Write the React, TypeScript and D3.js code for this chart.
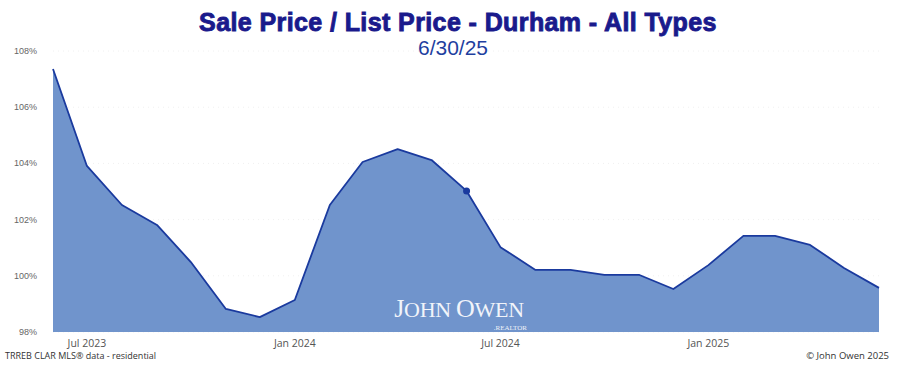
import React from "react";
import * as d3 from "d3";

const months: string[] = [
  "2023-06", "2023-07", "2023-08", "2023-09", "2023-10", "2023-11", "2023-12",
  "2024-01", "2024-02", "2024-03", "2024-04", "2024-05", "2024-06", "2024-07",
  "2024-08", "2024-09", "2024-10", "2024-11", "2024-12", "2025-01", "2025-02",
  "2025-03", "2025-04", "2025-05", "2025-06",
];
const values: number[] = [
  107.36, 103.91, 102.52, 101.81, 100.49, 98.82, 98.53, 99.14, 102.52, 104.05,
  104.51, 104.12, 103.02, 101.02, 100.21, 100.21, 100.03, 100.03, 99.53, 100.38,
  101.42, 101.42, 101.1, 100.28, 99.57,
];
const yTicks: number[] = [98, 100, 102, 104, 106, 108];
const xTickMonths: string[] = ["2023-07", "2024-01", "2024-07", "2025-01"];
const xTickLabels: string[] = ["Jul 2023", "Jan 2024", "Jul 2024", "Jan 2025"];
const markerMonth = "2024-06";

const W = 898, H = 369;
const left = 53, right = 879, top = 51, bottom = 332;

export default function App() {
  const parse = d3.timeParse("%Y-%m");
  const dates = months.map((m) => parse(m) as Date);
  const x = d3.scaleTime().domain([dates[0], dates[dates.length - 1]]).range([left, right]);
  const y = d3.scaleLinear().domain([98, 108]).range([bottom, top]);
  const data = dates.map((d, i) => ({ d, v: values[i] }));
  const area = d3.area<{ d: Date; v: number }>().x((p) => x(p.d)).y0(y(98)).y1((p) => y(p.v));
  const line = d3.line<{ d: Date; v: number }>().x((p) => x(p.d)).y((p) => y(p.v));
  const mi = months.indexOf(markerMonth);

  return (
    <svg width={W} height={H} style={{ position: "absolute", left: 0, top: 0, background: "#fff" }}>
      {yTicks.map((t) => (
        <line key={"g" + t} x1={left} x2={right} y1={y(t)} y2={y(t)} stroke="#f0f0f0" strokeWidth={1} strokeDasharray="1,4" />
      ))}
      <path d={area(data) || ""} fill="#7094cc" />
      <path d={line(data) || ""} fill="none" stroke="#1a3a9e" strokeWidth={1.8} strokeLinejoin="round" />
      <circle cx={x(dates[mi])} cy={y(values[mi])} r={3.5} fill="#1a3a9e" />
      <text x={459} y={317} textAnchor="middle" fontFamily="Liberation Serif, DejaVu Serif, serif" fontSize={22} fill="#ffffff" opacity={0.9} letterSpacing={-0.3}>
        <tspan fontSize={26}>J</tspan>OHN <tspan fontSize={26}>O</tspan>WEN
      </text>
      <text x={527} y={330} textAnchor="end" fontFamily="Liberation Serif, serif" fontSize={7} fill="#ffffff" opacity={0.9}>.REALTOR</text>
      {yTicks.map((t) => (
        <text key={"y" + t} x={37} y={y(t) + 3} textAnchor="end" fontFamily="Liberation Sans, Arial, sans-serif" fontSize={9} fill="#666">
          {t}%
        </text>
      ))}
      {xTickMonths.map((m, i) => (
        <text key={m} x={x(parse(m) as Date)} y={347} textAnchor="middle" fontFamily="Open Sans, Noto Sans, sans-serif" fontSize={10.5} fill="#555">
          {xTickLabels[i]}
        </text>
      ))}
      <text x={458} y={31} textAnchor="middle" fontFamily="Liberation Sans, Arial, sans-serif" fontWeight="bold" fontSize={25} fill="#1a1a8c" stroke="#1a1a8c" strokeWidth={0.9} letterSpacing={0.4}>
        Sale Price / List Price - Durham - All Types
      </text>
      <text x={453} y={55} textAnchor="middle" fontFamily="Liberation Sans, Arial, sans-serif" fontSize={21} fill="#1f3f9f">
        6/30/25
      </text>
      <text x={5} y={359} fontFamily="Open Sans, Noto Sans, sans-serif" fontSize={9} fill="#333">
        TRREB CLAR MLS® data - residential
      </text>
      <text x={889} y={359} textAnchor="end" fontFamily="Open Sans, Noto Sans, sans-serif" fontSize={9.5} fill="#333">
        © John Owen 2025
      </text>
    </svg>
  );
}
